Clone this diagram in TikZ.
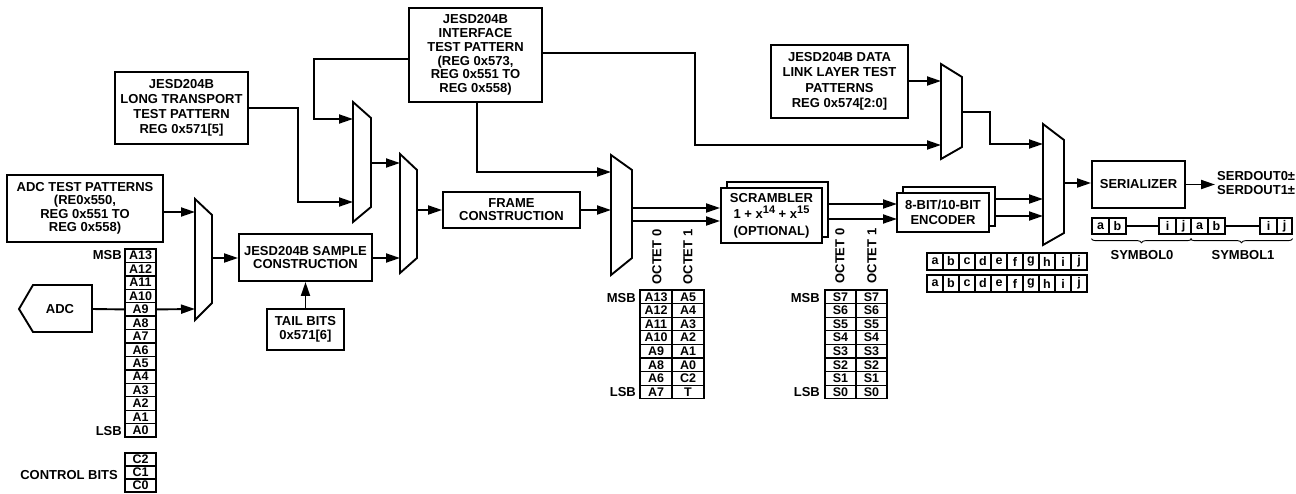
\documentclass[tikz,border=0pt]{standalone}
\usepackage{fontspec}
\setmainfont{Liberation Sans}
\usetikzlibrary{arrows.meta,decorations.pathreplacing,calc}
\newcommand{\supx}[1]{\raisebox{5pt}{\fontsize{11}{11}\selectfont #1}}
\begin{document}
\begin{tikzpicture}[x=1pt,y=-1pt,
  lsp/.style={font=\bfseries\fontsize{13}{#1}\selectfont},
  box/.style={draw, line width=1.9pt, fill=white, lsp=14, align=center, inner sep=0pt},
  cell/.style={draw, line width=1.3pt, inner sep=0pt, font=\bfseries\fontsize{12.5}{12.5}\selectfont},
  lbl/.style={lsp=14, inner sep=0pt},
  wire/.style={line width=1.9pt},
  arr/.style={wire, -{Triangle[length=14pt,width=9pt]}},
  mux/.style={draw, line width=1.9pt, fill=white, line join=miter},
  brc/.style={line width=0.9pt, decorate, decoration={brace, mirror, amplitude=4pt}},
]
\useasboundingbox (0,0) rectangle (1296,493);

% ---------- boxes ----------
\node[box, minimum width=133pt, minimum height=72pt, lsp=15] (lt) at (181.5,108) {JESD204B\\LONG TRANSPORT\\TEST PATTERN\\REG 0x571[5]};
\node[box, minimum width=156pt, minimum height=67pt, lsp=13.5] (adctp) at (85,208.5) {ADC TEST PATTERNS\\(RE0x550,\\REG 0x551 TO\\REG 0x558)};
\node[box, minimum width=133pt, minimum height=94pt, lsp=13.8] (iface) at (475.5,55) {JESD204B\\INTERFACE\\TEST PATTERN\\(REG 0x573,\\REG 0x551 TO\\REG 0x558)};
\node[box, minimum width=137pt, minimum height=73pt, lsp=15.5] (dll) at (839.5,81.5) {JESD204B DATA\\LINK LAYER TEST\\PATTERNS\\REG 0x574[2:0]};
\node[box, minimum width=133pt, minimum height=47pt, lsp=13] (samp) at (305.5,257.5) {JESD204B SAMPLE\\CONSTRUCTION};
\node[box, minimum width=77pt, minimum height=41pt] (tail) at (305.5,329.5) {TAIL BITS\\0x571[6]};
\node[box, minimum width=137pt, minimum height=36pt, lsp=13] (frame) at (511.5,210) {FRAME\\CONSTRUCTION};
\node[box, minimum width=101pt, minimum height=55pt] (scrb) at (777.5,209.5) {};
\node[box, minimum width=101pt, minimum height=55pt, lsp=16.5] (scr) at (771.5,215.5) {SCRAMBLER\\1 + x\supx{14} + x\supx{15}\\(OPTIONAL)};
\node[box, minimum width=92pt, minimum height=39pt] (encb) at (949,206.5) {};
\node[box, minimum width=92pt, minimum height=39pt, lsp=15] (enc) at (943,212.5) {8-BIT/10-BIT\\ENCODER};
\node[box, minimum width=93pt, minimum height=47pt] (ser) at (1138.5,184.5) {SERIALIZER};
\node[lbl, anchor=west, align=left] (sdo) at (1217,183.5) {SERDOUT0±\\SERDOUT1±};

% ---------- ADC ----------
\draw[wire, line join=miter] (19,309) -- (33,285) -- (92,285) -- (92,332) -- (33,332) -- cycle;
\node[lbl] (adc) at (60,309) {ADC};
\coordinate (adcout) at (92,309);

% ---------- muxes ----------
\draw[mux] (195,199) -- (212,215) -- (212,303) -- (195,320) -- cycle;
\coordinate (m1a) at (195,212); \coordinate (m1b) at (195,309); \coordinate (m1o) at (212,258);
\draw[mux] (353,102) -- (371,118) -- (371,207) -- (353,222) -- cycle;
\coordinate (m2a) at (353,119); \coordinate (m2b) at (353,202); \coordinate (m2o) at (371,163);
\draw[mux] (400,154) -- (417,170) -- (417,258) -- (400,273) -- cycle;
\coordinate (m3a) at (400,163); \coordinate (m3b) at (400,258); \coordinate (m3o) at (417,210);
\draw[mux] (611,155) -- (632,170) -- (632,258) -- (611,275) -- cycle;
\coordinate (m4a) at (611,172); \coordinate (m4b) at (611,210);
\coordinate (m4o1) at (632,208); \coordinate (m4o2) at (632,221);
\draw[mux] (941,64) -- (962,77) -- (962,147) -- (941,159) -- cycle;
\coordinate (m5a) at (941,81); \coordinate (m5b) at (941,145); \coordinate (m5o) at (962,112);
\draw[mux] (1043,124) -- (1064,140) -- (1064,233) -- (1043,245) -- cycle;
\coordinate (m6a) at (1043,144); \coordinate (m6b) at (1043,199); \coordinate (m6c) at (1043,216);
\coordinate (m6o) at (1064,183);
\coordinate (e1) at (897,204); \coordinate (e2) at (897,219);
\coordinate (serout) at (1215,184.5);

% ---------- A bit column ----------
\foreach \t [count=\i from 0] in {A13,A12,A11,A10,A9,A8,A7,A6,A5,A4,A3,A2,A1,A0}
  \node[cell, minimum width=31pt, minimum height=13.43pt] (b\t) at (140.5,{255.7+13.43*\i}) {\t};
\foreach \t [count=\i from 0] in {C2,C1,C0}
  \node[cell, minimum width=31pt, minimum height=13pt] (b\t) at (140.5,{459.5+13*\i}) {\t};
\node[lbl, anchor=east] (msb1) at (122,255) {MSB};
\node[lbl, anchor=east] (lsb1) at (122,431) {LSB};
\node[lbl, anchor=east] (ctl) at (118,475) {CONTROL BITS};

% ---------- octet tables ----------
\foreach \t [count=\i from 0] in {A13,A12,A11,A10,A9,A8,A6,A7}
  \node[cell, minimum width=32pt, minimum height=13.6pt] (oa\i) at (656,{296.8+13.6*\i}) {\t};
\foreach \t [count=\i from 0] in {A5,A4,A3,A2,A1,A0,C2,T}
  \node[cell, minimum width=32pt, minimum height=13.6pt] (ob\i) at (688,{296.8+13.6*\i}) {\t};
\foreach \t [count=\i from 0] in {S7,S6,S5,S4,S3,S2,S1,S0}{
  \node[cell, minimum width=31pt, minimum height=13.6pt] (sa\i) at (840.5,{296.8+13.6*\i}) {\t};
  \node[cell, minimum width=31pt, minimum height=13.6pt] (sb\i) at (871.5,{296.8+13.6*\i}) {\t};
}
\node[lbl, anchor=east] (msb2) at (636,298) {MSB};
\node[lbl, anchor=east] (lsb2) at (636,392) {LSB};
\node[lbl, anchor=east] (msb3) at (820,298) {MSB};
\node[lbl, anchor=east] (lsb3) at (820,392) {LSB};
\node[lbl, rotate=90] (oc0a) at (657,257) {OCTET 0};
\node[lbl, rotate=90] (oc1a) at (688,257) {OCTET 1};
\node[lbl, rotate=90] (oc0s) at (840,256) {OCTET 0};
\node[lbl, rotate=90] (oc1s) at (872,256) {OCTET 1};

% ---------- 10-bit rows ----------
\foreach \t [count=\i from 0] in {a,b,c,d,e,f,g,h,i,j}{
  \node[cell, minimum width=16pt, minimum height=17pt] (ra\i) at ({935+16*\i},261.5) {\t};
  \node[cell, minimum width=16pt, minimum height=17pt] (rb\i) at ({935+16*\i},283.5) {\t};
}

% ---------- symbols ----------
\node[cell, minimum width=17pt, minimum height=16pt] (ya0) at (1100.5,226) {a};
\node[cell, minimum width=17pt, minimum height=16pt] (yb0) at (1117.5,226) {b};
\node[cell, minimum width=17pt, minimum height=16pt] (yi0) at (1167.5,226) {i};
\node[cell, minimum width=15pt, minimum height=16pt] (yj0) at (1183.5,226) {j};
\node[cell, minimum width=17pt, minimum height=16pt] (ya1) at (1199.5,226) {a};
\node[cell, minimum width=17pt, minimum height=16pt] (yb1) at (1216.5,226) {b};
\node[cell, minimum width=17pt, minimum height=16pt] (yi1) at (1268.5,226) {i};
\node[cell, minimum width=15pt, minimum height=16pt] (yj1) at (1284.5,226) {j};
\draw[line width=1.3pt] (yb0.east) -- (yi0.west);
\draw[line width=1.3pt] (yb1.east) -- (yi1.west);
\draw[brc] ($(ya0.south west)+(0,4)$) -- ($(yj0.south east)+(0,4)$);
\draw[brc] ($(ya1.south west)+(0,4)$) -- ($(yj1.south east)+(0,4)$);
\node[lbl] (sym0) at (1142,255) {SYMBOL0};
\node[lbl] (sym1) at (1243,255) {SYMBOL1};

% ---------- connectors ----------
\draw[arr] (adctp.east |- m1a) -- (m1a);
\draw[wire] (adcout) -- (bA9.west);
\draw[arr] (bA9.east) -- (m1b);
\draw[arr] (m1o) -- (samp.west |- m1o);
\draw[arr] (samp.east |- m3b) -- (m3b);
\draw[arr] (tail.north) -- (samp.south);
\draw[arr] (lt.east) -| (298,202) -- (m2b);
\draw[arr] ($(iface.west)+(0,4)$) -| (314,119) -- (m2a);
\draw[arr] (m2o) -- (m3a);
\draw[arr] (m3o) -- (frame.west |- m3o);
\draw[arr] (frame.east) -- (m4b);
\draw[arr] ($(iface.south)+(1.5,0)$) |- (m4a);
\draw[arr] ($(iface.east)+(0,-2)$) -| (695,145) -- (m5b);
\draw[arr] (dll.east |- m5a) -- (m5a);
\draw[arr] (m5o) -| (990,144) -- (m6a);
\draw[arr] (m4o1) -- (scr.west |- m4o1);
\draw[arr] (m4o2) -- (scr.west |- m4o2);
\draw[arr] (scrb.east |- e1) -- (e1);
\draw[arr] (scrb.east |- e2) -- (e2);
\draw[arr] (encb.east |- m6b) -- (m6b);
\draw[arr] (encb.east |- m6c) -- (m6c);
\draw[arr] (m6o) -- (ser.west |- m6o);
\draw[arr] (ser.east) -- (serout);
\end{tikzpicture}
\end{document}
